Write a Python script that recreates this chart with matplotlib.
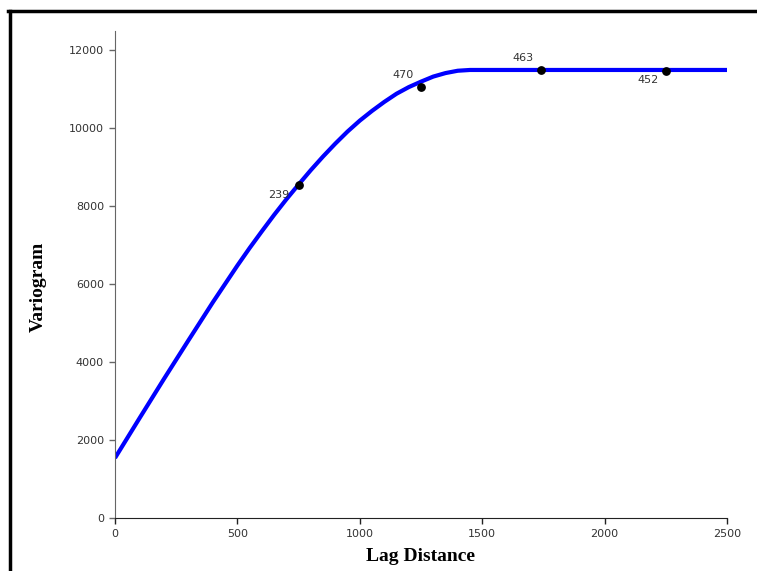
import matplotlib
matplotlib.use("Agg")
import matplotlib.pyplot as plt
from matplotlib.lines import Line2D

# fitted model curve, read along the lag axis
lag = [0, 100, 200, 300, 400, 500, 550, 600, 650, 700, 750, 800, 850, 900, 950,
       1000, 1050, 1100, 1150, 1200, 1250, 1300, 1350, 1400, 1450, 1500, 2000, 2500]
model = [1540, 2560, 3570, 4560, 5540, 6480, 6930, 7360, 7780, 8180, 8560,
         8930, 9280, 9610, 9920, 10200, 10450, 10680, 10890, 11060, 11200,
         11330, 11420, 11480, 11500, 11500, 11500, 11500]

# experimental points and their pair counts
pt_lag = [750, 1250, 1740, 2250]
pt_gamma = [8550, 11060, 11510, 11480]
pt_pairs = ["239", "470", "463", "452"]
pt_offsets = [(-14, -7), (-13, 9), (-13, 8), (-13, -7)]

fig = plt.figure(figsize=(7.57, 5.71), dpi=100)
ax = fig.add_axes([0.1519, 0.0928, 0.8085, 0.8529])

ax.plot(lag, model, color="#0000ff", lw=3, solid_joinstyle="round",
        solid_capstyle="butt", zorder=2)
ax.scatter(pt_lag, pt_gamma, s=28, color="black", zorder=3)
for x, y, lab, off in zip(pt_lag, pt_gamma, pt_pairs, pt_offsets):
    ax.annotate(lab, (x, y), xytext=off, textcoords="offset points",
                ha="center", va="center", fontsize=8, color="#333333")

ax.set_xlim(0, 2500)
ax.set_ylim(0, 12500)
ax.set_xticks([0, 500, 1000, 1500, 2000, 2500])
ax.set_yticks([0, 2000, 4000, 6000, 8000, 10000, 12000])

for side in ("top", "right"):
    ax.spines[side].set_visible(False)
ax.spines["left"].set_color("#666666")
ax.spines["bottom"].set_color("#222222")
ax.tick_params(axis="both", length=4, width=1, labelsize=8, labelcolor="#333333", pad=4)
ax.tick_params(axis="y", color="#666666")
ax.tick_params(axis="x", color="#222222")

fig.text(0.555, 0.025, "Lag Distance", ha="center", va="center",
         fontsize=14, fontweight="bold", family="Liberation Serif")
fig.text(0.051, 0.497, "Variogram", ha="center", va="center", rotation=90,
         fontsize=14, fontweight="bold", family="Liberation Serif")

# window frame along the top and left edges
fig.add_artist(Line2D([9.5 / 757, 9.5 / 757], [0, 1 - 10.5 / 571],
                      transform=fig.transFigure, color="black", lw=2.5))
fig.add_artist(Line2D([8 / 757, 1], [1 - 10.5 / 571, 1 - 10.5 / 571],
                      transform=fig.transFigure, color="black", lw=2.5))

fig.savefig("out.png", dpi=100)
